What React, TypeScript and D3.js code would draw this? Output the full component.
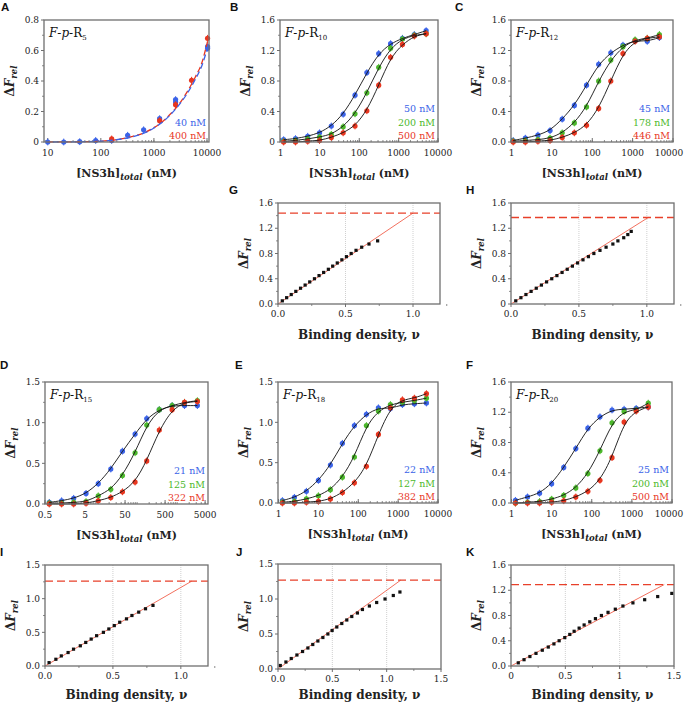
import React from 'react';
import * as d3 from 'd3';

const BLUE = '#3b63e8';
const GREEN = '#4cb82c';
const RED = '#e8361f';
const FONT = 'DejaVu Serif, serif';

// ---- panel A (F-p-R5) ----
const aBlueX = [10, 20, 40, 80, 160, 320, 640, 1280, 2560, 2560, 10240, 10240];
const aBlueY = [0.0, 0.0, 0.002, 0.01, 0.01, 0.044, 0.08, 0.153, 0.278, 0.262, 0.625, 0.615];
const aRedX = [160, 1280, 2560, 5120, 10240];
const aRedY = [0.02, 0.14, 0.245, 0.405, 0.68];
const aFitX = [10, 50, 100, 200, 400, 700, 1000, 1500, 2000, 3000, 4000, 6000, 8000, 10240];
const aBlueFitY = [0, 0.002, 0.005, 0.015, 0.035, 0.063, 0.092, 0.135, 0.175, 0.245, 0.305, 0.41, 0.5, 0.62];
const aRedFitY = [0, 0.002, 0.005, 0.016, 0.037, 0.065, 0.094, 0.138, 0.18, 0.25, 0.315, 0.425, 0.52, 0.66];

// ---- panel B (F-p-R10) ----
const bX = [1.2, 2.4, 4.9, 9.8, 19.5, 39, 78, 156, 312, 625, 1250, 2500, 5000];
const bBlue = [0.03, 0.044, 0.075, 0.12, 0.21, 0.364, 0.614, 0.91, 1.16, 1.29, 1.36, 1.41, 1.46];
const bGreen = [0.01, 0.02, 0.04, 0.065, 0.1, 0.2, 0.37, 0.645, 0.98, 1.23, 1.35, 1.4, 1.42];
const bRed = [0, 0, 0.01, 0.02, 0.06, 0.12, 0.21, 0.41, 0.745, 1.11, 1.28, 1.39, 1.42];

// ---- panel C (F-p-R12) ----
const cX = [1.1, 2.2, 4.5, 9, 18, 36, 72, 144, 288, 576, 1150, 2300, 4600];
const cBlue = [0.02, 0.05, 0.09, 0.15, 0.3, 0.48, 0.745, 1.02, 1.17, 1.27, 1.33, 1.32, 1.37];
const cGreen = [0.01, 0.02, 0.03, 0.05, 0.12, 0.25, 0.46, 0.8, 1.075, 1.25, 1.34, 1.36, 1.41];
const cRed = [0, 0, 0.01, 0.02, 0.06, 0.12, 0.22, 0.44, 0.8, 1.16, 1.32, 1.36, 1.38];

// ---- panel D (F-p-R15) ----
const dX = [0.64, 1.3, 2.6, 5.3, 10.7, 22, 43, 89, 174, 358, 750, 1530, 3200];
const dBlue = [0.02, 0.04, 0.07, 0.13, 0.25, 0.43, 0.65, 0.86, 1.05, 1.16, 1.21, 1.21, 1.21];
const dGreen = [0.01, 0.01, 0.02, 0.03, 0.1, 0.18, 0.35, 0.63, 0.97, 1.16, 1.21, 1.25, 1.27];
const dRed = [0, 0, 0, 0.01, 0.04, 0.08, 0.15, 0.27, 0.53, 0.91, 1.16, 1.25, 1.26];

// ---- panel E (F-p-R18) ----
const eX = [1.25, 2.5, 5, 10, 20, 40, 80, 160, 320, 640, 1280, 2560, 5120];
const eBlue = [0.03, 0.07, 0.145, 0.28, 0.47, 0.74, 0.96, 1.1, 1.18, 1.17, 1.22, 1.23, 1.24];
const eGreen = [0.01, 0.02, 0.05, 0.09, 0.165, 0.32, 0.57, 0.96, 1.14, 1.22, 1.25, 1.27, 1.3];
const eRed = [0, 0, 0.01, 0.02, 0.05, 0.13, 0.25, 0.455, 0.85, 1.18, 1.28, 1.3, 1.355];

// ---- panel F (F-p-R20) ----
const fX = [1.25, 2.5, 5, 10, 20, 40, 80, 160, 320, 640, 1280, 2560];
const fBlue = [0.035, 0.08, 0.13, 0.255, 0.47, 0.72, 0.99, 1.14, 1.23, 1.24, 1.25, 1.27];
const fGreen = [0, 0.01, 0.02, 0.05, 0.1, 0.2, 0.39, 0.69, 1.06, 1.21, 1.23, 1.32];
const fRed = [0, 0, 0, 0.01, 0.03, 0.08, 0.155, 0.3, 0.6, 1.07, 1.215, 1.27];

// ---- binding density panels ----
const gNu = [0.032, 0.064, 0.098, 0.132, 0.167, 0.201, 0.235, 0.27, 0.304, 0.338, 0.373, 0.405, 0.439, 0.473, 0.507, 0.542, 0.578, 0.62, 0.674, 0.738];
const gF = [0.05, 0.1, 0.15, 0.2, 0.25, 0.3, 0.35, 0.4, 0.45, 0.5, 0.55, 0.6, 0.65, 0.7, 0.75, 0.8, 0.85, 0.9, 0.95, 1.0];
const hNu = [0.035, 0.073, 0.11, 0.148, 0.186, 0.224, 0.262, 0.3, 0.338, 0.376, 0.414, 0.452, 0.49, 0.53, 0.57, 0.61, 0.655, 0.7, 0.75, 0.787, 0.83, 0.86, 0.885];
const hF = [0.05, 0.1, 0.15, 0.2, 0.25, 0.3, 0.35, 0.4, 0.45, 0.5, 0.55, 0.6, 0.65, 0.7, 0.75, 0.8, 0.85, 0.9, 0.95, 1.0, 1.05, 1.1, 1.15];
const iNu = [0.03, 0.08, 0.12, 0.17, 0.21, 0.26, 0.3, 0.34, 0.38, 0.43, 0.47, 0.51, 0.55, 0.6, 0.64, 0.69, 0.74, 0.795];
const iF = [0.05, 0.1, 0.15, 0.2, 0.25, 0.3, 0.35, 0.4, 0.45, 0.5, 0.55, 0.6, 0.65, 0.7, 0.75, 0.8, 0.85, 0.9];
const jNu = [0.021, 0.073, 0.122, 0.174, 0.226, 0.275, 0.32, 0.367, 0.413, 0.459, 0.498, 0.541, 0.587, 0.633, 0.679, 0.731, 0.777, 0.841, 0.908, 0.985, 1.061, 1.122];
const jF = [0.05, 0.1, 0.15, 0.2, 0.25, 0.3, 0.35, 0.4, 0.45, 0.5, 0.55, 0.6, 0.65, 0.7, 0.75, 0.8, 0.85, 0.9, 0.95, 1.0, 1.05, 1.1];
const kNu = [0.067, 0.12, 0.174, 0.23, 0.288, 0.343, 0.395, 0.443, 0.495, 0.541, 0.581, 0.627, 0.673, 0.725, 0.777, 0.832, 0.893, 0.96, 1.03, 1.122, 1.23, 1.35, 1.48];
const kF = [0.05, 0.1, 0.15, 0.2, 0.25, 0.3, 0.35, 0.4, 0.45, 0.5, 0.55, 0.6, 0.65, 0.7, 0.75, 0.8, 0.85, 0.9, 0.95, 1.0, 1.05, 1.1, 1.15];

type Box = { x0: number; x1: number; y0: number; y1: number };
type Series = { x: number[]; y: number[]; color: string };
type Fit = { x: number[]; y: number[]; color: string };

interface LogSpec {
  letter: string; lx: number; ly: number;
  box: Box;
  xDomain: [number, number];
  xTicks: number[]; xLabels: string[];
  yMax: number; yTicks: number[]; yLabels: string[];
  sub: string;
  series: Series[];
  legend: string[];
  fits?: Fit[];
}

interface DensSpec {
  letter: string; lx: number; ly: number;
  box: Box;
  xMax: number; xTicks: number[]; xLabels: string[];
  yMax: number; yTicks: number[]; yLabels: string[];
  level: number; nuEnd: number;
  nu: number[]; f: number[];
}

const frameStroke = '#6f6f6f';
const W = 685;
const H = 704;

function YTitle({ x, cy }: { x: number; cy: number }) {
  return (
    <text transform={`translate(${x},${cy}) rotate(-90)`} textAnchor="middle"
      fontFamily={FONT} fontWeight="bold" fontSize={12} fill="#222">
      Δ<tspan fontStyle="italic">F</tspan>
      <tspan fontStyle="italic" fontSize={8.5} dy={3}>rel</tspan>
    </text>
  );
}

function Letter({ t, x, y }: { t: string; x: number; y: number }) {
  return (
    <text x={x} y={y} fontFamily="Liberation Sans, Arial, sans-serif" fontWeight="bold" fontSize={11.5} fill="#111">{t}</text>
  );
}

function YAxis({ box, y, ticks, labels }: { box: Box; y: d3.ScaleLinear<number, number>; ticks: number[]; labels: string[] }) {
  const minor: number[] = [];
  for (let i = 0; i < ticks.length - 1; i++) minor.push((ticks[i] + ticks[i + 1]) / 2);
  return (
    <g>
      {ticks.map((t, i) => (
        <g key={'y' + i}>
          <line x1={box.x0 - 3} x2={box.x0} y1={y(t)} y2={y(t)} stroke={frameStroke} strokeWidth={1} />
          <text x={box.x0 - 5} y={y(t) + 3.2} textAnchor="end" fontFamily={FONT} fontSize={9} fill="#222">{labels[i]}</text>
        </g>
      ))}
      {minor.map((t, i) => (
        <line key={'ym' + i} x1={box.x0 - 2} x2={box.x0} y1={y(t)} y2={y(t)} stroke={frameStroke} strokeWidth={0.8} />
      ))}
    </g>
  );
}

function LogPanel({ p }: { p: LogSpec }) {
  const { box } = p;
  const x = d3.scaleLog().domain(p.xDomain).range([box.x0, box.x1]);
  const y = d3.scaleLinear().domain([0, p.yMax]).range([box.y1, box.y0]);
  const minor: number[] = [];
  const lo = Math.floor(Math.log10(p.xDomain[0]));
  const hi = Math.ceil(Math.log10(p.xDomain[1]));
  for (let e = lo; e <= hi; e++) {
    for (let m = 1; m <= 9; m++) {
      const v = m * Math.pow(10, e);
      if (v >= p.xDomain[0] && v <= p.xDomain[1]) minor.push(v);
    }
  }
  const line = d3.line<[number, number]>().x(d => x(d[0])).y(d => y(d[1])).curve(d3.curveBasis);
  const lineM = d3.line<[number, number]>().x(d => x(d[0])).y(d => y(d[1])).curve(d3.curveMonotoneX);
  const cy = (box.y0 + box.y1) / 2;
  const cx = (box.x0 + box.x1) / 2;
  return (
    <g>
      <Letter t={p.letter} x={p.lx} y={p.ly} />
      {minor.map((v, i) => (
        <line key={'m' + i} x1={x(v)} x2={x(v)} y1={box.y1} y2={box.y1 - 2} stroke={frameStroke} strokeWidth={0.8} />
      ))}
      {p.xTicks.map((t, i) => (
        <g key={'x' + i}>
          <line x1={x(t)} x2={x(t)} y1={box.y1} y2={box.y1 - 4} stroke={frameStroke} strokeWidth={1} />
          <text x={Math.min(x(t), W - 16)} y={box.y1 + 14} textAnchor="middle" fontFamily={FONT} fontSize={9} fill="#222">{p.xLabels[i]}</text>
        </g>
      ))}
      <YAxis box={box} y={y} ticks={p.yTicks} labels={p.yLabels} />
      {p.series.map((s, si) => (
        <g key={'s' + si}>
          {s.x.map((xv, i) => (
            <g key={i}>
              <line x1={x(xv)} x2={x(xv)} y1={y(s.y[i]) - 3.4} y2={y(s.y[i]) + 3.4} stroke={s.color} strokeWidth={1} />
              <circle cx={x(xv)} cy={y(s.y[i])} r={2.6} fill={s.color} />
            </g>
          ))}
        </g>
      ))}
      {p.fits
        ? p.fits.map((f, fi) => (
          <path key={'f' + fi} d={lineM(f.x.map((v, i) => [v, f.y[i]] as [number, number])) || ''}
            fill="none" stroke={f.color} strokeWidth={1.3} strokeDasharray="6,3" strokeDashoffset={fi * 4} />
        ))
        : p.series.map((s, si) => (
          <path key={'c' + si} d={line(s.x.map((v, i) => [v, s.y[i]] as [number, number])) || ''}
            fill="none" stroke="#111" strokeWidth={0.9} />
        ))}
      <rect x={box.x0} y={box.y0} width={box.x1 - box.x0} height={box.y1 - box.y0} fill="none" stroke={frameStroke} strokeWidth={1.3} />
      <text x={box.x0 + 5} y={box.y0 + 17} fontFamily={FONT} fontSize={12} fill="#111">
        <tspan fontStyle="italic">F</tspan>-<tspan fontStyle="italic">p</tspan>-R<tspan fontSize={7} dy={2.5}>{p.sub}</tspan>
      </text>
      {p.legend.map((l, i) => (
        <text key={'l' + i} x={box.x1 - 3} y={box.y1 - 3 - (p.legend.length - 1 - i) * 13.5} textAnchor="end"
          fontFamily={FONT} fontSize={9.5} fill={p.series[i].color}>{l}</text>
      ))}
      <YTitle x={box.x0 - 30} cy={cy} />
      <text x={cx} y={box.y1 + 35} textAnchor="middle" fontFamily={FONT} fontWeight="bold" fontSize={11} fill="#222">
        [NS3h]<tspan fontStyle="italic" fontSize={8.5} dy={3}>total</tspan><tspan dy={-3}> (nM)</tspan>
      </text>
    </g>
  );
}

function DensPanel({ p }: { p: DensSpec }) {
  const { box } = p;
  const x = d3.scaleLinear().domain([0, p.xMax]).range([box.x0, box.x1]);
  const y = d3.scaleLinear().domain([0, p.yMax]).range([box.y1, box.y0]);
  const minorX: number[] = [];
  for (let i = 0; i < p.xTicks.length - 1; i++) minorX.push((p.xTicks[i] + p.xTicks[i + 1]) / 2);
  if (p.xMax > p.xTicks[p.xTicks.length - 1]) minorX.push(p.xTicks[p.xTicks.length - 1] + 0.25);
  const cy = (box.y0 + box.y1) / 2;
  const cx = (box.x0 + box.x1) / 2;
  return (
    <g>
      <Letter t={p.letter} x={p.lx} y={p.ly} />
      {[0.5, 1.0].map(g => (
        <line key={'g' + g} x1={x(g)} x2={x(g)} y1={box.y0} y2={box.y1} stroke="#c4c4c4" strokeWidth={0.8} strokeDasharray="1,1" />
      ))}
      {p.xTicks.map((t, i) => (
        <g key={'x' + i}>
          <line x1={x(t)} x2={x(t)} y1={box.y1} y2={box.y1 + 3} stroke={frameStroke} strokeWidth={1} />
          <text x={x(t)} y={box.y1 + 13} textAnchor="middle" fontFamily={FONT} fontSize={9} fill="#222">{p.xLabels[i]}</text>
        </g>
      ))}
      {minorX.map((t, i) => (
        <line key={'xm' + i} x1={x(t)} x2={x(t)} y1={box.y1} y2={box.y1 + 2} stroke={frameStroke} strokeWidth={0.8} />
      ))}
      <YAxis box={box} y={y} ticks={p.yTicks} labels={p.yLabels} />
      <line x1={x(0)} y1={y(0)} x2={x(p.nuEnd)} y2={y(p.level)} stroke="#f0604c" strokeWidth={0.9} />
      <line x1={box.x0} x2={box.x1} y1={y(p.level)} y2={y(p.level)} stroke="#e8402a" strokeWidth={1.3} strokeDasharray="8,4" />
      {p.nu.map((v, i) => (
        <rect key={'p' + i} x={x(v) - 1.6} y={y(p.f[i]) - 1.6} width={3.2} height={3.2} fill="#111" />
      ))}
      <rect x={box.x0} y={box.y0} width={box.x1 - box.x0} height={box.y1 - box.y0} fill="none" stroke={frameStroke} strokeWidth={1.3} />
      <YTitle x={box.x0 - 30} cy={cy} />
      <text x={cx} y={Math.min(box.y1 + 35, H - 5)} textAnchor="middle" fontFamily={FONT} fontWeight="bold" fontSize={12} fill="#222">
        Binding density, ν
      </text>
    </g>
  );
}

const logTicks4 = [1, 10, 100, 1000, 10000];
const logLabels4 = ['1', '10', '100', '1000', '10000'];
const y16 = [0, 0.4, 0.8, 1.2, 1.6];
const y16Labels = ['0.0', '0.4', '0.8', '1.2', '1.6'];
const y15 = [0, 0.5, 1.0, 1.5];
const y15Labels = ['0.0', '0.5', '1.0', '1.5'];
const legB = ['50 nM', '200 nM', '500 nM'];
const legC = ['45 nM', '178 nM', '446 nM'];
const legD = ['21 nM', '125 nM', '322 nM'];
const legE = ['22 nM', '127 nM', '382 nM'];
const legF = ['25 nM', '200 nM', '500 nM'];
const legA = ['40 nM', '400 nM'];

const logPanels: LogSpec[] = [
  {
    letter: 'A', lx: 1, ly: 11, box: { x0: 44, x1: 209, y0: 20, y1: 142 },
    xDomain: [8.5, 10900], xTicks: [10, 100, 1000, 10000], xLabels: ['10', '100', '1000', '10000'],
    yMax: 0.8, yTicks: [0, 0.2, 0.4, 0.6, 0.8], yLabels: ['0', '0.2', '0.4', '0.6', '0.8'],
    sub: '5',
    series: [{ x: aBlueX, y: aBlueY, color: BLUE }, { x: aRedX, y: aRedY, color: RED }],
    legend: legA,
    fits: [{ x: aFitX, y: aRedFitY, color: RED }, { x: aFitX, y: aBlueFitY, color: BLUE }],
  },
  {
    letter: 'B', lx: 230, ly: 11, box: { x0: 280, x1: 438, y0: 20, y1: 142 },
    xDomain: [0.97, 10000], xTicks: logTicks4, xLabels: logLabels4,
    yMax: 1.6, yTicks: y16, yLabels: ['0', '0.4', '0.8', '1.2', '1.6'], sub: '10',
    series: [{ x: bX, y: bBlue, color: BLUE }, { x: bX, y: bGreen, color: GREEN }, { x: bX, y: bRed, color: RED }],
    legend: legB,
  },
  {
    letter: 'C', lx: 455, ly: 11, box: { x0: 511, x1: 673, y0: 20, y1: 142 },
    xDomain: [0.97, 10000], xTicks: logTicks4, xLabels: logLabels4,
    yMax: 1.6, yTicks: y16, yLabels: y16Labels, sub: '12',
    series: [{ x: cX, y: cBlue, color: BLUE }, { x: cX, y: cGreen, color: GREEN }, { x: cX, y: cRed, color: RED }],
    legend: legC,
  },
  {
    letter: 'D', lx: 0, ly: 369, box: { x0: 45, x1: 208, y0: 382, y1: 504 },
    xDomain: [0.5, 5900], xTicks: [0.5, 5, 50, 500, 5000], xLabels: ['0.5', '5', '50', '500', '5000'],
    yMax: 1.5, yTicks: y15, yLabels: y15Labels, sub: '15',
    series: [{ x: dX, y: dBlue, color: BLUE }, { x: dX, y: dGreen, color: GREEN }, { x: dX, y: dRed, color: RED }],
    legend: legD,
  },
  {
    letter: 'E', lx: 235, ly: 369, box: { x0: 278, x1: 438, y0: 382, y1: 503 },
    xDomain: [0.97, 10000], xTicks: logTicks4, xLabels: logLabels4,
    yMax: 1.5, yTicks: y15, yLabels: y15Labels, sub: '18',
    series: [{ x: eX, y: eBlue, color: BLUE }, { x: eX, y: eGreen, color: GREEN }, { x: eX, y: eRed, color: RED }],
    legend: legE,
  },
  {
    letter: 'F', lx: 466, ly: 369, box: { x0: 511, x1: 672, y0: 382, y1: 503 },
    xDomain: [0.97, 10000], xTicks: logTicks4, xLabels: logLabels4,
    yMax: 1.6, yTicks: y16, yLabels: y16Labels, sub: '20',
    series: [{ x: fX, y: fBlue, color: BLUE }, { x: fX, y: fGreen, color: GREEN }, { x: fX, y: fRed, color: RED }],
    legend: legF,
  },
];

const densPanels: DensSpec[] = [
  {
    letter: 'G', lx: 229, ly: 194, box: { x0: 278, x1: 440, y0: 203, y1: 304 },
    xMax: 1.2, xTicks: [0, 0.5, 1.0], xLabels: ['0.0', '0.5', '1.0'],
    yMax: 1.6, yTicks: y16, yLabels: y16Labels, level: 1.44, nuEnd: 1.0, nu: gNu, f: gF,
  },
  {
    letter: 'H', lx: 466, ly: 194, box: { x0: 511, x1: 674, y0: 203, y1: 304 },
    xMax: 1.2, xTicks: [0, 0.5, 1.0], xLabels: ['0.0', '0.5', '1.0'],
    yMax: 1.6, yTicks: y16, yLabels: ['0', '0.4', '0.8', '1.2', '1.6'], level: 1.37, nuEnd: 1.01, nu: hNu, f: hF,
  },
  {
    letter: 'I', lx: 0, ly: 556, box: { x0: 45, x1: 208, y0: 565, y1: 666 },
    xMax: 1.2, xTicks: [0, 0.5, 1.0], xLabels: ['0.0', '0.5', '1.0'],
    yMax: 1.5, yTicks: y15, yLabels: y15Labels, level: 1.26, nuEnd: 1.08, nu: iNu, f: iF,
  },
  {
    letter: 'J', lx: 236, ly: 556, box: { x0: 278, x1: 441, y0: 564, y1: 669 },
    xMax: 1.5, xTicks: [0, 0.5, 1.0, 1.5], xLabels: ['0.0', '0.5', '1.0', '1.5'],
    yMax: 1.5, yTicks: y15, yLabels: y15Labels, level: 1.27, nuEnd: 1.13, nu: jNu, f: jF,
  },
  {
    letter: 'K', lx: 466, ly: 556, box: { x0: 511, x1: 674, y0: 565, y1: 666 },
    xMax: 1.5, xTicks: [0, 0.5, 1.0, 1.5], xLabels: ['0', '0.5', '1', '1.5'],
    yMax: 1.6, yTicks: y16, yLabels: y16Labels, level: 1.29, nuEnd: 1.41, nu: kNu, f: kF,
  },
];

export default function App() {
  return (
    <svg width={W} height={H} style={{ position: 'absolute', left: 0, top: 0, background: '#fff' }}>
      <rect width={W} height={H} fill="#fff" />
      {logPanels.map(p => <LogPanel key={p.letter} p={p} />)}
      {densPanels.map(p => <DensPanel key={p.letter} p={p} />)}
    </svg>
  );
}
